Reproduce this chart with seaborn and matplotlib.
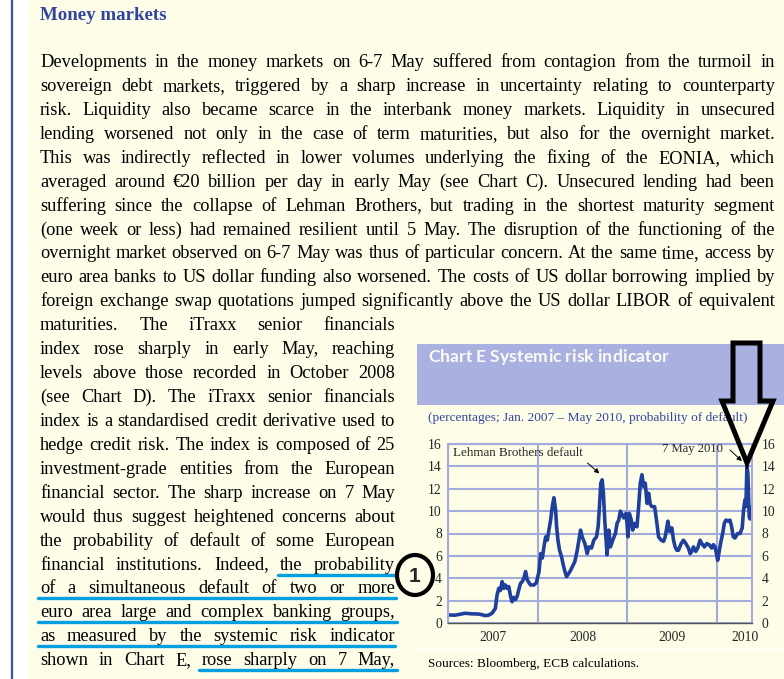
import numpy as np
import pandas as pd
import seaborn as sns

import matplotlib

matplotlib.use("Agg")
import matplotlib.pyplot as plt
from matplotlib import patches
from matplotlib.lines import Line2D

W, H = 784, 679
CREAM = "#fdfde8"
BAND = "#aab0e0"
GRID = "#a3aadc"
LINE = "#1e3f9c"
NAVY = "#3244a2"
UNDERLINE = "#00a0e0"

# systemic risk indicator, decimal years vs. probability of default (%)
t_years = [
    2007.004, 2007.079, 2007.135, 2007.191, 2007.266, 2007.341, 2007.378, 2007.416,
    2007.453, 2007.491, 2007.528, 2007.547, 2007.566, 2007.584, 2007.603, 2007.622,
    2007.640, 2007.659, 2007.678, 2007.697, 2007.715, 2007.734, 2007.753, 2007.772,
    2007.790, 2007.809, 2007.828, 2007.846, 2007.865, 2007.884, 2007.903, 2007.921,
    2007.959, 2007.985,
    2008.015, 2008.033, 2008.052, 2008.070, 2008.089, 2008.107, 2008.126, 2008.144,
    2008.163, 2008.181, 2008.200, 2008.211, 2008.226, 2008.244, 2008.267, 2008.285,
    2008.304, 2008.322, 2008.348, 2008.367, 2008.385, 2008.415, 2008.441, 2008.459,
    2008.478, 2008.496, 2008.526, 2008.552, 2008.570, 2008.600, 2008.626, 2008.656,
    2008.674, 2008.689, 2008.704, 2008.719, 2008.733, 2008.748, 2008.763, 2008.774,
    2008.793, 2008.811, 2008.837, 2008.867, 2008.885, 2008.904, 2008.922, 2008.941,
    2008.959, 2008.985, 2008.996,
    2009.007, 2009.022, 2009.044, 2009.059, 2009.081, 2009.107, 2009.126, 2009.144,
    2009.163, 2009.181, 2009.200, 2009.219, 2009.237, 2009.256, 2009.274, 2009.304,
    2009.330, 2009.348, 2009.378, 2009.404, 2009.422, 2009.452, 2009.470, 2009.496,
    2009.515, 2009.533, 2009.552, 2009.570, 2009.600, 2009.626, 2009.652, 2009.681,
    2009.700, 2009.719, 2009.737, 2009.763, 2009.785, 2009.811, 2009.830, 2009.859,
    2009.885, 2009.911, 2009.941, 2009.959, 2009.978, 2009.996,
    2010.007, 2010.026, 2010.044, 2010.063, 2010.081, 2010.100, 2010.126, 2010.144,
    2010.163, 2010.181, 2010.200, 2010.230, 2010.256, 2010.281, 2010.296, 2010.311,
    2010.322, 2010.333, 2010.344, 2010.352, 2010.359, 2010.367, 2010.374, 2010.385,
]
risk_values = [
    0.72, 0.70, 0.78, 0.87, 0.82, 0.80, 0.74, 0.66,
    0.70, 0.87, 1.3, 2.5, 3.1, 2.9, 3.7, 3.1,
    3.4, 3.1, 3.25, 2.4, 1.9, 2.3, 2.1, 2.4,
    3.0, 3.55, 3.7, 4.0, 4.6, 3.85, 3.6, 3.4,
    3.4, 3.6,
    4.6, 6.2, 5.8, 6.8, 7.7, 7.4, 8.3, 9.2,
    10.4, 11.2, 10.1, 8.6, 7.4, 6.5, 5.9, 5.2,
    4.6, 4.15, 4.45, 4.7, 5.0, 5.5, 6.5, 7.4,
    8.3, 7.7, 7.1, 6.2, 6.8, 6.7, 7.4, 7.7,
    8.6, 10.4, 12.5, 12.8, 11.6, 9.2, 7.4, 6.1,
    8.3, 6.8, 7.4, 8.0, 8.9, 9.2, 10.0, 9.7,
    9.4, 9.8, 8.9,
    7.7, 9.8, 9.2, 8.3, 8.9, 8.6, 10.4, 12.5,
    13.25, 12.2, 12.5, 10.7, 11.6, 10.6, 10.4, 10.4,
    8.9, 7.7, 7.4, 7.3, 7.7, 9.1, 8.2, 8.5,
    7.4, 6.8, 6.5, 6.5, 7.1, 7.4, 7.1, 6.7,
    6.2, 6.4, 6.8, 6.4, 6.7, 7.4, 7.1, 6.8,
    7.1, 7.0, 6.7, 7.0, 6.8, 6.1,
    5.6, 6.5, 7.3, 8.0, 8.9, 9.2, 9.1, 9.2,
    8.6, 7.7, 7.6, 8.0, 8.0, 8.5, 10.1, 11.0,
    10.4, 14.0, 13.4, 11.3, 9.5, 9.3, 9.8, 10.4,
]
y_ticks = [0, 2, 4, 6, 8, 10, 12, 14, 16]
year_edges = [2007, 2008, 2009, 2010]
year_labels = ["2007", "2008", "2009", "2010"]
year_label_pos = [2007.5, 2008.5, 2009.5, 2010.31]

wide_lines = [
    "Developments in the money markets on 6-7 May suffered from contagion from the turmoil in",
    "sovereign debt markets, triggered by a sharp increase in uncertainty relating to counterparty",
    "risk. Liquidity also became scarce in the interbank money markets. Liquidity in unsecured",
    "lending worsened not only in the case of term maturities, but also for the overnight market.",
    "This was indirectly reflected in lower volumes underlying the fixing of the EONIA, which",
    "averaged around €20 billion per day in early May (see Chart C). Unsecured lending had been",
    "suffering since the collapse of Lehman Brothers, but trading in the shortest maturity segment",
    "(one week or less) had remained resilient until 5 May. The disruption of the functioning of the",
    "overnight market observed on 6-7 May was thus of particular concern. At the same time, access by",
    "euro area banks to US dollar funding also worsened. The costs of US dollar borrowing implied by",
    "foreign exchange swap quotations jumped significantly above the US dollar LIBOR of equivalent",
]
narrow_lines = [
    "maturities. The iTraxx senior financials",
    "index rose sharply in early May, reaching",
    "levels above those recorded in October 2008",
    "(see Chart D). The iTraxx senior financials",
    "index is a standardised credit derivative used to",
    "hedge credit risk. The index is composed of 25",
    "investment-grade entities from the European",
    "financial sector. The sharp increase on 7 May",
    "would thus suggest heightened concerns about",
    "the probability of default of some European",
    "financial institutions. Indeed, the probability",
    "of a simultaneous default of two or more",
    "euro area large and complex banking groups,",
    "as measured by the systemic risk indicator",
    "shown in Chart E, rose sharply on 7 May,",
]
# (narrow line index, x start, x end) of the highlighted phrase
underlines = [(10, 278, 395), (11, 38, 396), (12, 38, 397), (13, 38, 395), (14, 199, 397)]

sns.set_style("white")
plt.rcParams["font.family"] = ["Liberation Serif", "DejaVu Serif"]

fig = plt.figure(figsize=(W / 100, H / 100), dpi=100, facecolor="white")
renderer = fig.canvas.get_renderer()


def fx(x):
    return x / W


def fy(y):
    return 1 - y / H


def width_of(t):
    return t.get_window_extent(renderer).width


def fit(t, target):
    # scale font so the text spans the width measured on the reference
    t.set_fontsize(t.get_fontsize() * target / width_of(t))
    return t


def justify(line, x0, x1, baseline, size):
    words = line.split()
    objs = [fig.text(0, 0, w, fontsize=size, va="baseline", ha="left", color="black") for w in words]
    widths = [width_of(o) for o in objs]
    gap = (x1 - x0 - sum(widths)) / max(len(words) - 1, 1)
    x = x0
    for o, w in zip(objs, widths):
        o.set_position((fx(x), fy(baseline)))
        x += w + gap


def tracked(text, x0, x1, baseline, size, **kw):
    # letter-spaced heading, one glyph at a time
    objs, widths = [], []
    for ch in text:
        if ch == " ":
            objs.append(None)
            widths.append(size * 100 / 72 * 0.22)
            continue
        o = fig.text(0, 0, ch, fontsize=size, va="baseline", ha="left", **kw)
        objs.append(o)
        widths.append(width_of(o))
    extra = (x1 - x0 - sum(widths)) / (len(text) - 1)
    x = x0
    for o, w in zip(objs, widths):
        if o is not None:
            o.set_position((fx(x), fy(baseline)))
        x += w + extra


# page background
fig.add_artist(patches.Rectangle((fx(28), 0), 1 - fx(28), 1, transform=fig.transFigure,
                                 facecolor=CREAM, edgecolor="none", zorder=-5))
fig.add_artist(Line2D([fx(12), fx(12)], [0, 1], color="#3553b5", lw=1.6, zorder=-4))

fit(fig.text(fx(40), fy(20), "Money markets", fontsize=12, fontweight="bold", color=NAVY,
             va="baseline"), 126)

BODY = 13.2
LEAD = 23.93
for i, line in enumerate(wide_lines):
    justify(line, 40, 775, 67 + i * LEAD, BODY)
for j, line in enumerate(narrow_lines):
    justify(line, 40, 395, 67 + (len(wide_lines) + j) * LEAD, BODY)

for j, x0, x1 in underlines:
    yb = 67 + (len(wide_lines) + j) * LEAD + 5
    fig.add_artist(Line2D([fx(x0), fx(x1)], [fy(yb), fy(yb)], color=UNDERLINE, lw=2.4,
                          solid_capstyle="round"))

# chart panel
fig.add_artist(patches.Rectangle((fx(417), fy(405)), 1 - fx(417), (405 - 344) / H,
                                 transform=fig.transFigure, facecolor=BAND, edgecolor="none", zorder=-3))
tracked("Chart E Systemic risk indicator", 428, 668, 362, 12.6, fontweight="bold", color="#fbfbf4",
        family=["Lato", "DejaVu Sans"])

fit(fig.text(fx(428), fy(421), "(percentages; Jan. 2007 \u2013 May 2010, probability of default)",
             fontsize=10, color=NAVY, va="baseline"), 319)
fig.add_artist(Line2D([fx(417), 1], [fy(650), fy(650)], color="white", lw=1.6))
fit(fig.text(fx(428), fy(667), "Sources: Bloomberg, ECB calculations.", fontsize=9.5, color="black",
             va="baseline"), 212)

ax = fig.add_axes([fx(448), fy(623), 304 / W, 179 / H])
ax.set_facecolor(CREAM)
sns.lineplot(x=t_years, y=risk_values, ax=ax, color=LINE, linewidth=2.6,
             sort=False, estimator=None)
ax.set_xlim(2007, 2010.39)
ax.set_ylim(0, 16)
ax.set_xlabel("")
ax.set_ylabel("")
ax.set_axisbelow(True)

ax.set_yticks(y_ticks)
ax.set_yticklabels([str(v) for v in y_ticks])
ax.tick_params(axis="y", length=0, pad=4.5, labelsize=9.8)
ax.set_xticks(year_edges)
ax.set_xticklabels([])
ax.set_xticks(year_label_pos, minor=True)
ax.set_xticklabels(year_labels, minor=True)
ax.tick_params(axis="x", which="major", length=4, width=1, color="#333333", direction="out")
ax.tick_params(axis="x", which="minor", length=0, pad=6, labelsize=9.8)
ax.grid(True, which="major", color=GRID, lw=1.5)

for side in ["top", "left", "right"]:
    ax.spines[side].set_color(GRID)
    ax.spines[side].set_linewidth(1.5)
ax.spines["bottom"].set_color("#555555")
ax.spines["bottom"].set_linewidth(1)

ax_r = ax.twinx()
ax_r.set_ylim(0, 16)
ax_r.set_yticks(y_ticks)
ax_r.set_yticklabels([str(v) for v in y_ticks])
ax_r.tick_params(axis="y", length=0, pad=7, labelsize=9.8)
for side in ax_r.spines:
    ax_r.spines[side].set_visible(False)

fit(ax.text(2007.056, 15.2, "Lehman Brothers default", fontsize=9.6, va="center", ha="left"), 130)
ax.annotate("", xy=(2008.711, 13.2), xytext=(2008.533, 14.47),
            arrowprops=dict(arrowstyle="-|>", color="black", lw=0.7, mutation_scale=7))
fit(ax.text(2010.067, 15.55, "7 May 2010", fontsize=9.6, va="center", ha="right"), 61)
ax.annotate("", xy=(2010.30, 14.3), xytext=(2010.122, 15.64),
            arrowprops=dict(arrowstyle="-|>", color="black", lw=0.7, mutation_scale=7))

# callout marks
fig.add_artist(patches.Ellipse((fx(415), fy(575)), 36 / W, 40 / H, transform=fig.transFigure,
                               fill=False, edgecolor="black", lw=3, zorder=5))
fig.text(fx(415), fy(576), "1", fontsize=15, fontweight="bold", ha="center", va="center",
         family=["Liberation Sans", "DejaVu Sans"], zorder=6)
arrow_px = [(733, 343), (760, 343), (760, 401), (773, 401), (747, 463), (722, 401), (733, 401)]
fig.add_artist(patches.Polygon([(fx(x), fy(y)) for x, y in arrow_px], closed=True,
                               transform=fig.transFigure, fill=False, edgecolor="black",
                               lw=3.6, joinstyle="miter", zorder=5))

fig.savefig("out.png", dpi=100, facecolor=fig.get_facecolor())
